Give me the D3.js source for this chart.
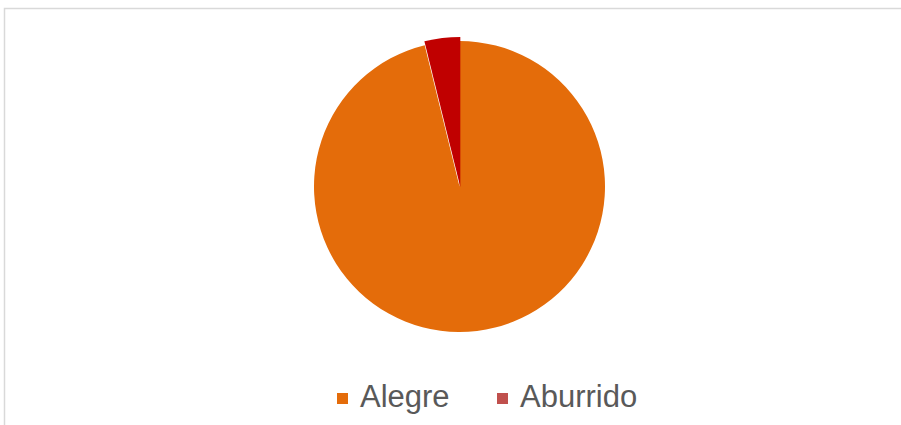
<!DOCTYPE html>
<html>
<head>
<meta charset="utf-8">
<title>Alegre / Aburrido</title>
<script src="https://d3js.org/d3.v7.min.js"></script>
<style>
  body { margin: 0; background: #fff; }
  svg { display: block; }
</style>
</head>
<body>
<div id="chart"></div>
<script>

// データ
var categories = ["Alegre", "Aburrido"];
var values = [25, 1];
var sliceColors = ["#E46C0A", "#C00000"];
var legendColors = ["#E46C0A", "#C0504D"];

var width = 901;
var height = 425;

// 円の中心と半径
var cx = 459.5, cy = 186.5, radius = 145.5;

var svg = d3.select("#chart")
  .append("svg")
  .attr("width", width)
  .attr("height", height);

// 枠線 (右と下ははみ出している)
svg.append("rect")
  .attr("x", 4.5)
  .attr("y", 8.5)
  .attr("width", 910)
  .attr("height", 430)
  .style("fill", "none")
  .style("stroke", "#D9D9D9")
  .style("stroke-width", 1.5);

var data = categories.map((c, i) => ({ name: c, value: values[i], i: i }));

var pie = d3.pie()
  .sort(null)
  .value(d => d.value);

var arcs = pie(data);

var arcMain = d3.arc().innerRadius(0).outerRadius(radius);
var arcExploded = d3.arc().innerRadius(0).outerRadius(radius + 4.5);

var g = svg.append("g")
  .attr("transform", `translate(${cx}, ${cy})`);

g.selectAll("path")
  .data(arcs)
  .enter()
  .append("path")
  .attr("d", d => d.data.i === 1 ? arcExploded(d) : arcMain(d))
  .attr("transform", d => d.data.i === 1 ? "translate(0.8, 0.5)" : null)
  .style("fill", d => sliceColors[d.data.i]);

// 凡例
var legendX = [337, 497];
var legend = svg.selectAll(".legend")
  .data(data)
  .enter()
  .append("g")
  .attr("class", "legend")
  .attr("transform", (d, i) => `translate(${legendX[i]}, 393)`);

legend.append("rect")
  .attr("width", 11)
  .attr("height", 11)
  .style("fill", d => legendColors[d.i]);

legend.append("text")
  .text(d => d.name)
  .attr("x", 23)
  .attr("y", 14)
  .style("font-family", "'Liberation Sans', Arial, sans-serif")
  .style("font-size", "31px")
  .style("fill", "#595959");

</script>
</body>
</html>
